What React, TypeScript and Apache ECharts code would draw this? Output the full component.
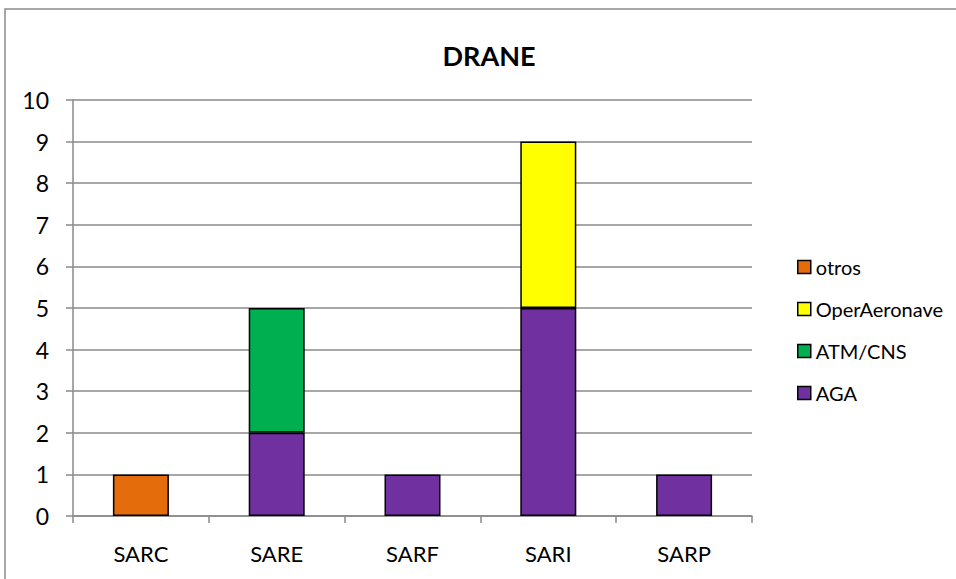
import React, { useEffect, useRef } from "react";
import * as echarts from "echarts";

const categories = ["SARC", "SARE", "SARF", "SARI", "SARP"];
const agaValues = [null, 2, 1, 5, 1];
const atmValues = [null, 3, null, null, null];
const operValues = [null, null, null, 4, null];
const otrosValues = [1, null, null, null, null];
const legendOrder = ["otros", "OperAeronave", "ATM/CNS", "AGA"];

const FONT = "Lato";

export default function App() {
  const ref = useRef<HTMLDivElement>(null);
  useEffect(() => {
    document.body.style.margin = "0";
    const chart = echarts.init(ref.current!, null, { renderer: "svg" });
    const mk = (name: string, data: (number | null)[], color: string) => ({
      name,
      type: "bar",
      stack: "total",
      barWidth: 56,
      data: data.map((v) => (v == null ? "-" : v)),
      itemStyle: { color, borderColor: "#000", borderWidth: 1.5 },
    });
    chart.setOption({
      animation: false,
      textStyle: { fontFamily: FONT },
      title: {
        text: "DRANE",
        left: 484,
        top: 37,
        textAlign: "center",
        textStyle: { fontFamily: FONT, fontWeight: "bold", fontSize: 27, color: "#000" },
      },
      graphic: [
        {
          type: "rect",
          shape: { x: 5, y: 9, width: 1000, height: 1000 },
          style: { fill: "none", stroke: "#8a8a8a", lineWidth: 1.5 },
          silent: true,
        },
      ],
      legend: {
        orient: "vertical",
        left: 792,
        top: 252,
        itemWidth: 13,
        itemHeight: 13,
        itemGap: 22,
        icon: "rect",
        data: legendOrder,
        textStyle: { fontFamily: FONT, fontSize: 20, color: "#000" },
        itemStyle: { borderColor: "#000", borderWidth: 1.5 },
      },
      grid: { left: 73, right: 204, top: 100, bottom: 63, containLabel: false },
      xAxis: {
        type: "category",
        data: categories,
        axisLine: { lineStyle: { color: "#8a8a8a", width: 1.5 } },
        axisTick: { show: true, length: 7, lineStyle: { color: "#8a8a8a", width: 1.5 } },
        axisLabel: { color: "#000", fontSize: 22, fontFamily: FONT, margin: 26 },
      },
      yAxis: {
        type: "value",
        min: 0,
        max: 10,
        interval: 1,
        axisLine: { show: true, lineStyle: { color: "#8a8a8a", width: 1.5 } },
        axisTick: { show: true, length: 7, lineStyle: { color: "#8a8a8a", width: 1.5 } },
        splitLine: { lineStyle: { color: "#8a8a8a", width: 1.5 } },
        axisLabel: { color: "#000", fontSize: 23, fontFamily: FONT, margin: 24 },
      },
      series: [
        mk("AGA", agaValues, "#7030A0"),
        mk("ATM/CNS", atmValues, "#00B050"),
        mk("OperAeronave", operValues, "#FFFF00"),
        mk("otros", otrosValues, "#E46C0A"),
      ],
    });
    return () => chart.dispose();
  }, []);
  return <div ref={ref} style={{ width: 956, height: 579 }} />;
}
